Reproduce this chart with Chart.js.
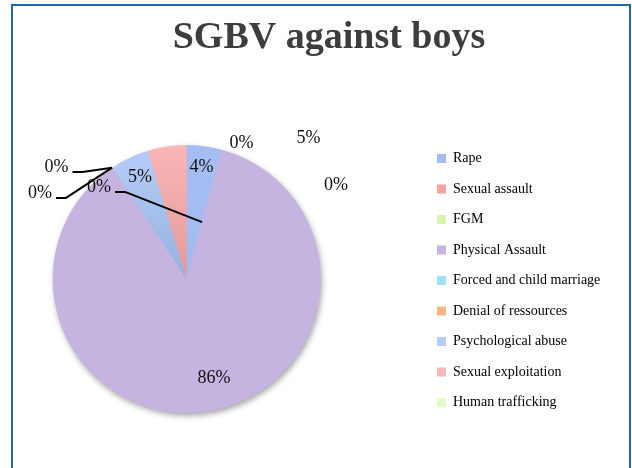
<!DOCTYPE html>
<html>
<head>
<meta charset="utf-8">
<script src="https://cdn.jsdelivr.net/npm/chart.js@4/dist/chart.umd.min.js"></script>
<style>
html, body { margin: 0; padding: 0; background: #ffffff; }
#wrap { position: relative; width: 632px; height: 468px; overflow: hidden; background: #ffffff; }
#frame { position: absolute; left: 11px; top: 4px; width: 620px; height: 520px; border: 2px solid #1f6aa2; box-sizing: border-box; }
#c { position: absolute; left: 0; top: 0; }
</style>
</head>
<body>
<div id="wrap">
  <div id="frame"></div>
  <canvas id="c" width="632" height="468"></canvas>
</div>
<script>
// ---- data ----
const chartTitle = 'SGBV against boys';
const categories = ['Rape', 'Sexual assault', 'FGM', 'Physical Assault', 'Forced and child marriage',
                    'Denial of ressources', 'Psychological abuse', 'Sexual exploitation', 'Human trafficking'];
const shares = [4.2, 0, 0, 86.4, 0, 0, 4.7, 4.7, 0];

// ---- styles ----
const legendColors = ['#a3bdf2', '#f7a2a2', '#d8f5a9', '#c6b3e0', '#a0e1fa', '#fdb682', '#b6cdf9', '#fbb8b8', '#e3fbc5'];
const sliceTopColors = ['#a4bef3', '#f7a2a2', '#d8f5a9', '#c5b3e0', '#a0e1fa', '#fdb682', '#b7cef9', '#f9b7b7', '#e3fbc5'];
const sliceBottomColors = ['#a2bcf0', '#f7a2a2', '#d8f5a9', '#c5b3e0', '#a0e1fa', '#fdb682', '#94b1df', '#e39999', '#e3fbc5'];

// label placement: angle (deg, clockwise from top) and radius as a multiple of the pie radius
const labelAngle = [7.5, 21.9, 316.4, 164.6, 310.7, 300.4, 335.3, 40.8, 57.8];
const labelRadius = [0.843, 1.094, 0.949, 0.766, 1.282, 1.269, 0.834, 1.390, 1.317];
// leader lines: depth along slice start edge (multiple of radius), null = no leader
const leaderDepth = [null, null, 0.44, null, 1, 1, null, null, null];

const PIE_BOX = { left: 52.7, top: 145, size: 268 };
const LEGEND_POS = { left: 420.5, top: 135 };

const placeBoxes = {
  id: 'placeBoxes',
  afterLayout(chart) {
    chart.chartArea = {
      left: PIE_BOX.left, top: PIE_BOX.top,
      right: PIE_BOX.left + PIE_BOX.size, bottom: PIE_BOX.top + PIE_BOX.size,
      width: PIE_BOX.size, height: PIE_BOX.size
    };
    const lg = chart.legend;
    if (lg) {
      const w = lg.width, h = lg.height;
      lg.left = LEGEND_POS.left; lg.right = lg.left + w;
      lg.top = LEGEND_POS.top; lg.bottom = lg.top + h;
    }
  }
};

const pieShadow = {
  id: 'pieShadow',
  beforeDatasetsDraw(chart) {
    const arc = chart.getDatasetMeta(0).data[0];
    if (!arc) return;
    const { x, y, outerRadius } = arc.getProps(['x', 'y', 'outerRadius'], true);
    const c = chart.ctx;
    c.save();
    c.shadowColor = 'rgba(0,0,0,0.38)';
    c.shadowBlur = 6;
    c.shadowOffsetX = 1.5;
    c.shadowOffsetY = 3;
    c.fillStyle = '#c5b3e0';
    c.beginPath();
    c.arc(x, y, outerRadius - 0.5, 0, Math.PI * 2);
    c.fill();
    c.restore();
  }
};

const sliceLabels = {
  id: 'sliceLabels',
  afterDatasetsDraw(chart) {
    const meta = chart.getDatasetMeta(0);
    const vals = chart.data.datasets[0].data;
    const total = vals.reduce((a, b) => a + b, 0);
    const c = chart.ctx;
    c.save();
    c.font = '18px "Liberation Serif", serif';
    c.fillStyle = '#111111';
    c.textAlign = 'center';
    c.textBaseline = 'middle';
    meta.data.forEach((arc, i) => {
      const p = arc.getProps(['x', 'y', 'outerRadius', 'startAngle'], true);
      const th = (labelAngle[i] - 90) * Math.PI / 180;
      const r = labelRadius[i] * p.outerRadius;
      const lx = p.x + r * Math.cos(th);
      const ly = p.y + r * Math.sin(th);
      const txt = Math.round(vals[i] / total * 100) + '%';
      c.fillText(txt, lx, ly);
      if (leaderDepth[i] != null) {
        const w = c.measureText(txt).width;
        const sx = lx + w / 2 + 4, sy = ly + 5;
        const ar = leaderDepth[i] * p.outerRadius;
        const ax = p.x + ar * Math.cos(p.startAngle);
        const ay = p.y + ar * Math.sin(p.startAngle);
        c.beginPath();
        c.strokeStyle = '#000000';
        c.lineWidth = 2;
        c.lineJoin = 'round';
        c.moveTo(sx, sy);
        c.lineTo(sx + 10, sy);
        c.lineTo(ax, ay);
        c.stroke();
      }
    });
    c.restore();
  }
};

new Chart(document.getElementById('c'), {
  type: 'pie',
  data: {
    labels: categories,
    datasets: [{
      data: shares,
      borderWidth: 0,
      clip: false,
      backgroundColor: (ctx) => {
        const i = ctx.dataIndex;
        const a = ctx.chart.chartArea;
        if (!a || i == null) return legendColors[i] || '#cccccc';
        const g = ctx.chart.ctx.createLinearGradient(0, a.top, 0, (a.top + a.bottom) / 2);
        g.addColorStop(0, sliceTopColors[i]);
        g.addColorStop(1, sliceBottomColors[i]);
        return g;
      }
    }]
  },
  options: {
    responsive: false,
    animation: false,
    events: [],
    devicePixelRatio: 1,
    layout: { padding: { left: 26, right: 0, top: 0, bottom: 0 } },
    plugins: {
      title: {
        display: true,
        text: chartTitle,
        color: '#3d3d3d',
        font: { family: '"Liberation Serif", serif', size: 38, weight: 'bold' },
        padding: { top: 15, bottom: 0 }
      },
      legend: {
        display: true,
        position: 'right',
        align: 'start',
        labels: {
          boxWidth: 9,
          boxHeight: 9,
          padding: 16.5,
          color: '#404040',
          font: { family: '"Liberation Serif", serif', size: 14 },
          generateLabels(chart) {
            return chart.data.labels.map((t, i) => ({
              text: t,
              fillStyle: legendColors[i],
              strokeStyle: legendColors[i],
              lineWidth: 0,
              hidden: false,
              index: i
            }));
          }
        }
      },
      tooltip: { enabled: false }
    }
  },
  plugins: [placeBoxes, pieShadow, sliceLabels]
});
</script>
</body>
</html>
